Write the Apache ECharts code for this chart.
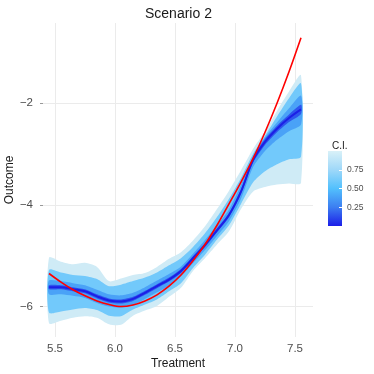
<!DOCTYPE html>
<html>
<head>
<meta charset="utf-8">
<script src="https://cdn.jsdelivr.net/npm/echarts@6/dist/echarts.min.js"></script>
<style>
  html, body { margin: 0; padding: 0; background: #fff; }
  #chart { width: 374px; height: 374px; }
</style>
</head>
<body>
<div id="chart"></div>
<script>
// treatment grid
var treatment = [5.45, 5.55, 5.65, 5.75, 5.85, 5.95, 6.05, 6.15, 6.25, 6.35, 6.45,
  6.55, 6.65, 6.75, 6.85, 6.95, 7.05, 7.15, 7.25, 7.35, 7.45, 7.55]
// true curve (red)
var truth = [-5.35, -5.52, -5.67, -5.79, -5.89, -5.96, -6.00, -5.97, -5.89, -5.77, -5.60,
  -5.38, -5.10, -4.78, -4.40, -3.98, -3.55, -3.09, -2.57, -2.00, -1.38, -0.71]
// estimated curve (dark blue)
var estimate = [-5.62, -5.62, -5.66, -5.70, -5.80, -5.88, -5.90, -5.85, -5.73, -5.60, -5.47,
  -5.30, -5.05, -4.79, -4.50, -4.20, -3.74, -3.12, -2.76, -2.50, -2.29, -2.12]
// confidence bands, outer to inner
var hi95 = [-5.04, -5.12, -5.17, -5.14, -5.22, -5.50, -5.45, -5.38, -5.34, -5.22, -5.06,
  -4.93, -4.70, -4.42, -4.08, -3.72, -3.32, -2.90, -2.55, -2.15, -1.77, -1.45]
var lo95 = [-6.33, -6.28, -6.22, -6.19, -6.22, -6.35, -6.36, -6.18, -6.08, -5.99, -5.81,
  -5.63, -5.30, -5.05, -4.78, -4.52, -4.08, -3.74, -3.65, -3.60, -3.58, -3.57]
var hi75 = [-5.28, -5.33, -5.38, -5.40, -5.46, -5.60, -5.57, -5.50, -5.43, -5.33, -5.19,
  -5.05, -4.83, -4.56, -4.24, -3.88, -3.47, -3.00, -2.64, -2.26, -1.90, -1.61]
var lo75 = [-6.12, -6.10, -6.06, -6.03, -6.07, -6.18, -6.19, -6.06, -5.96, -5.86, -5.70,
  -5.54, -5.24, -4.98, -4.68, -4.40, -3.98, -3.56, -3.34, -3.20, -3.10, -3.05]
var hi50 = [-5.49, -5.50, -5.54, -5.58, -5.67, -5.76, -5.78, -5.73, -5.62, -5.49, -5.36,
  -5.21, -4.96, -4.69, -4.40, -4.09, -3.61, -3.04, -2.67, -2.38, -2.10, -1.85]
var lo50 = [-5.76, -5.76, -5.79, -5.83, -5.93, -6.00, -6.02, -5.97, -5.85, -5.72, -5.59,
  -5.40, -5.15, -4.89, -4.61, -4.32, -3.88, -3.26, -2.94, -2.72, -2.55, -2.42]
var hi25 = [-5.58, -5.58, -5.62, -5.66, -5.76, -5.84, -5.86, -5.81, -5.69, -5.56, -5.43,
  -5.26, -5.01, -4.75, -4.46, -4.16, -3.69, -3.07, -2.70, -2.44, -2.22, -2.03]
var lo25 = [-5.66, -5.66, -5.70, -5.74, -5.84, -5.92, -5.94, -5.89, -5.77, -5.64, -5.51,
  -5.34, -5.09, -4.83, -4.54, -4.24, -3.78, -3.17, -2.82, -2.57, -2.37, -2.21]

var xTicks = [5.5, 6.0, 6.5, 7.0, 7.5]
var yTicks = [-6, -4, -2]
var ciTicks = [0.25, 0.5, 0.75]

var FONT = 'Liberation Sans'

function pairs(ys) {
  return treatment.map(function (x, i) { return [x, ys[i]] })
}

// one filled polygon per band, built on the first item through api.coord
function band(lo, hi, color) {
  var rows = treatment.map(function (x, i) { return [x, lo[i], hi[i]] })
  return {
    type: 'custom',
    silent: true,
    data: rows,
    encode: { x: 0, y: [1, 2] },
    renderItem: function (params, api) {
      if (params.dataIndex !== 0) return null
      var pts = []
      rows.forEach(function (r) { pts.push(api.coord([r[0], r[2]])) })
      for (var i = rows.length - 1; i >= 0; i--) pts.push(api.coord([rows[i][0], rows[i][1]]))
      return {
        type: 'polygon',
        shape: { points: pts, smooth: 0.25 },
        style: { fill: color }
      }
    }
  }
}

var chart = echarts.init(document.getElementById('chart'))

var series = [
  band(lo95, hi95, '#cfebf6'),
  band(lo75, hi75, '#72c9fb'),
  band(lo50, hi50, '#4aa2f7'),
  band(lo25, hi25, '#2e56ee')
]

series.push({
  type: 'line',
  data: pairs(estimate),
  smooth: 0.35,
  symbol: 'none',
  z: 3,
  lineStyle: { color: '#1c1fe6', width: 2 }
})
series.push({
  type: 'line',
  data: pairs(truth),
  smooth: 0.35,
  symbol: 'none',
  z: 4,
  lineStyle: { color: '#ff0000', width: 1.6 }
})
// colour bar
series.push({
  type: 'bar',
  xAxisIndex: 1,
  yAxisIndex: 1,
  data: [1],
  barWidth: '100%',
  silent: true,
  itemStyle: {
    color: new echarts.graphic.LinearGradient(0, 0, 0, 1, [
      { offset: 0, color: '#d9f1f8' },
      { offset: 0.25, color: '#9fd8f9' },
      { offset: 0.5, color: '#52c0fd' },
      { offset: 0.75, color: '#3c7ef1' },
      { offset: 1, color: '#1c1ee8' }
    ])
  }
})

function minus(v) {
  return String(v).replace('-', '\u2212')
}

chart.setOption({
  animation: false,
  backgroundColor: '#fff',
  title: [{
    text: 'Scenario 2',
    left: 140,
    top: 2,
    textStyle: { fontFamily: FONT, fontSize: 14, fontWeight: 'normal', color: '#1a1a1a' }
  }, {
    text: 'C.I.',
    left: 327,
    top: 136,
    textStyle: { fontFamily: FONT, fontSize: 10, fontWeight: 'normal', color: '#1a1a1a' }
  }],
  grid: [
    { left: 43, right: 61, top: 23, bottom: 37, outerBoundsMode: 'none' },
    { left: 328, top: 151, width: 14, height: 75, outerBoundsMode: 'none' }
  ],
  xAxis: [{
    type: 'value',
    min: 5.4,
    max: 7.65,
    name: 'Treatment',
    nameLocation: 'middle',
    nameGap: 21,
    nameMoveOverlap: false,
    nameTextStyle: { fontFamily: FONT, fontSize: 12, color: '#1a1a1a' },
    axisLine: { show: false },
    axisTick: { show: false, customValues: xTicks },
    axisLabel: {
      customValues: xTicks,
      fontFamily: FONT,
      fontSize: 11.5,
      color: '#4d4d4d',
      margin: 6,
      formatter: function (v) { return v.toFixed(1) }
    },
    splitLine: { show: true, lineStyle: { color: '#ebebeb', width: 1 } }
  }, {
    type: 'category',
    gridIndex: 1,
    data: [''],
    show: false
  }],
  yAxis: [{
    type: 'value',
    min: -6.6,
    max: -0.42,
    name: 'Outcome',
    nameLocation: 'middle',
    nameGap: 33,
    nameMoveOverlap: false,
    nameRotate: 90,
    nameTextStyle: { fontFamily: FONT, fontSize: 12, color: '#1a1a1a', verticalAlign: 'middle' },
    axisLine: { show: false },
    axisTick: { show: true, length: 3, customValues: yTicks, lineStyle: { color: '#999' } },
    axisLabel: {
      customValues: yTicks,
      fontFamily: FONT,
      fontSize: 11.5,
      color: '#4d4d4d',
      margin: 10,
      formatter: minus
    },
    splitLine: { show: true, lineStyle: { color: '#ebebeb', width: 1 } }
  }, {
    type: 'value',
    gridIndex: 1,
    min: 0,
    max: 1,
    position: 'right',
    z: 5,
    axisLine: { show: false },
    splitLine: { show: false },
    axisTick: { show: true, inside: true, length: 3, customValues: ciTicks, lineStyle: { color: '#fff', width: 1 } },
    axisLabel: {
      customValues: ciTicks,
      fontFamily: FONT,
      fontSize: 8.5,
      color: '#4d4d4d',
      margin: 5,
      formatter: function (v) { return v.toFixed(2) }
    }
  }],
  series: series
})
</script>
</body>
</html>
